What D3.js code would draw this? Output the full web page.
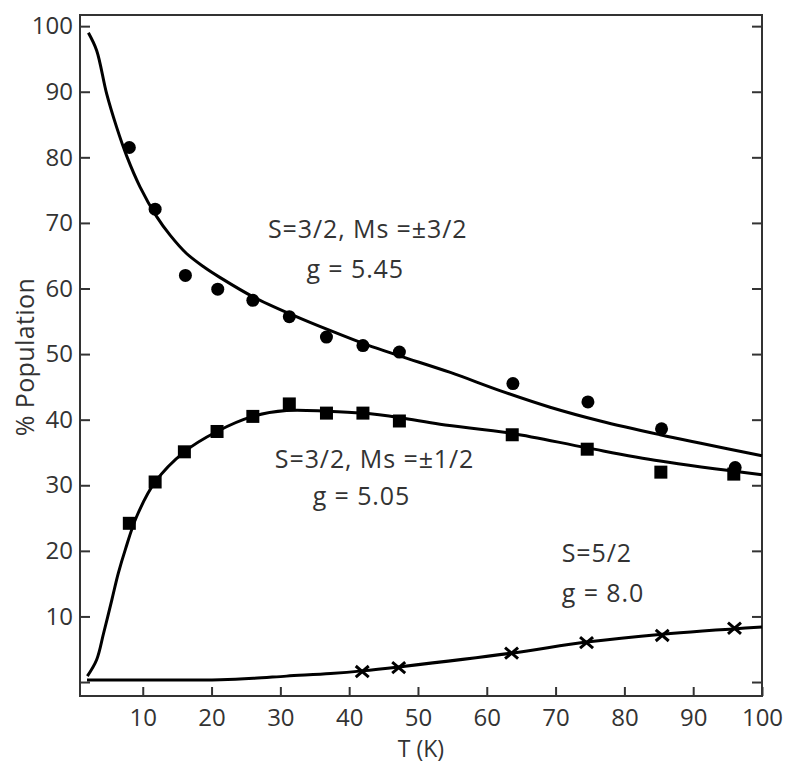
<!DOCTYPE html>
<html>
<head>
<meta charset="utf-8">
<script src="https://cdn.jsdelivr.net/npm/d3@7"></script>
<style>
  html, body { margin: 0; padding: 0; background: #fff; }
  svg text { font-family: "Open Sans", "Noto Sans", sans-serif; fill: #333; }
</style>
</head>
<body>
<svg id="chart" width="800" height="777"></svg>
<script>
// ---- data ----
const circT = [8.05, 11.8, 16.2, 20.9, 26.0, 31.3, 36.7, 42.0, 47.3, 63.8, 74.7, 85.4, 96.1];
const circV = [81.5, 72.1, 62.0, 59.9, 58.2, 55.7, 52.6, 51.3, 50.3, 45.5, 42.7, 38.6, 32.7];
const sqT = [8.05, 11.8, 16.05, 20.8, 26.0, 31.3, 36.7, 42.0, 47.3, 63.7, 74.6, 85.3, 95.9];
const sqV = [24.2, 30.5, 35.1, 38.2, 40.5, 42.4, 41.0, 41.0, 39.8, 37.7, 35.5, 32.0, 31.7];
const crossT = [41.9, 47.2, 63.6, 74.5, 85.5, 96.0];
const crossV = [1.6, 2.2, 4.4, 6.0, 7.1, 8.2];

// fitted curves
const fitAT = [2.1, 3.3, 4.75, 6.2, 7.7, 9.6, 12.0, 14.0, 16.4, 19.0, 21.2, 26.1, 31.9, 37.2, 42.6, 47.4, 54.7, 62.0, 69.2, 76.5, 85.2, 91.1, 100];
const fitAV = [99.0, 96.3, 89.7, 84.6, 80.1, 75.5, 71.0, 68.1, 65.3, 63.2, 61.7, 58.7, 55.9, 53.6, 51.4, 49.7, 47.2, 44.4, 41.9, 39.8, 37.7, 36.4, 34.5];
const fitBT = [1.95, 3.3, 4.3, 5.5, 6.45, 7.5, 9.1, 11.8, 16.05, 20.8, 26.0, 30.9, 36.8, 42.0, 47.4, 53.2, 63.7, 74.6, 85.2, 100];
const fitBV = [0.9, 3.4, 7.4, 12.5, 16.6, 20.3, 25.2, 30.5, 35.1, 38.2, 40.5, 41.4, 41.3, 41.0, 40.3, 39.3, 37.9, 35.7, 33.7, 31.6];
const fitCT = [1.9, 10, 21.3, 26.1, 30.9, 37.3, 41.9, 47.2, 63.6, 74.5, 85.5, 100];
const fitCV = [0.3, 0.3, 0.35, 0.56, 0.9, 1.3, 1.7, 2.3, 4.4, 6.1, 7.3, 8.4];

const xTicks = [10, 20, 30, 40, 50, 60, 70, 80, 90, 100];
const yTicks = [0, 10, 20, 30, 40, 50, 60, 70, 80, 90, 100];
const yTickLabels = ["", "10", "20", "30", "40", "50", "60", "70", "80", "90", "100"];

// annotation lines: text, left T, baseline value
const annoText = ["S=3/2, Ms =\u00b13/2", "g = 5.45", "S=3/2, Ms =\u00b11/2", "g = 5.05", "S=5/2", "g = 8.0"];
const annoT = [28.2, 33.8, 29.2, 34.7, 70.9, 70.9];
const annoV = [67.7, 61.6, 32.6, 27.0, 18.3, 12.2];
const xLabel = "T (K)";
const yLabel = "% Population";

// ---- layout ----
const L = 80, R = 762, T0 = 15, B = 696;
const svg = d3.select("#chart");
const x = d3.scaleLinear().domain([0.88, 100]).range([L, R]);
const y = d3.scaleLinear().domain([-2.13, 101.7]).range([B, T0]);

const axisColor = "#333";

// frame
svg.append("rect").attr("x", L).attr("y", T0).attr("width", R - L).attr("height", B - T0)
  .attr("fill", "none").attr("stroke", axisColor).attr("stroke-width", 2);

// bottom axis ticks (inward)
const xAxis = d3.axisBottom(x).tickValues(xTicks).tickSizeInner(-9).tickSizeOuter(0).tickPadding(13);
const gx = svg.append("g").attr("transform", `translate(0,${B})`).call(xAxis);
gx.select(".domain").remove();
gx.selectAll("line").attr("stroke", axisColor).attr("stroke-width", 2);
gx.selectAll("text").attr("font-size", 24).attr("fill", "#333")
  .attr("font-family", "'Open Sans', sans-serif");

// left axis
const yAxis = d3.axisLeft(y).tickValues(yTicks).tickFormat((d, i) => yTickLabels[i])
  .tickSizeInner(-10).tickSizeOuter(0).tickPadding(7);
const gy = svg.append("g").attr("transform", `translate(${L},0)`).call(yAxis);
gy.select(".domain").remove();
gy.selectAll("line").attr("stroke", axisColor).attr("stroke-width", 2);
gy.selectAll("text").attr("font-size", 24).attr("fill", "#333")
  .attr("font-family", "'Open Sans', sans-serif");

// right axis (ticks only)
const yAxisR = d3.axisRight(y).tickValues(yTicks).tickFormat("").tickSizeInner(-10).tickSizeOuter(0);
const gyr = svg.append("g").attr("transform", `translate(${R},0)`).call(yAxisR);
gyr.select(".domain").remove();
gyr.selectAll("line").attr("stroke", axisColor).attr("stroke-width", 2);

// axis titles
svg.append("text").attr("x", 421).attr("y", 757).attr("text-anchor", "middle")
  .attr("font-size", 23).text(xLabel);
svg.append("text").attr("transform", `translate(34,357) rotate(-90)`)
  .attr("text-anchor", "middle").attr("font-size", 25).attr("letter-spacing", 0.4).text(yLabel);

// curves
const line = d3.line().x(d => x(d[0])).y(d => y(d[1])).curve(d3.curveCatmullRom.alpha(0.5));
const fits = [d3.zip(fitAT, fitAV), d3.zip(fitBT, fitBV), d3.zip(fitCT, fitCV)];
svg.append("g").selectAll("path").data(fits).join("path")
  .attr("d", line).attr("fill", "none").attr("stroke", "#000").attr("stroke-width", 3)
  .attr("stroke-linejoin", "round");

// markers
svg.append("g").selectAll("circle").data(d3.zip(circT, circV)).join("circle")
  .attr("cx", d => x(d[0])).attr("cy", d => y(d[1])).attr("r", 6.5).attr("fill", "#000");
const s = 13;
svg.append("g").selectAll("rect").data(d3.zip(sqT, sqV)).join("rect")
  .attr("x", d => x(d[0]) - s / 2).attr("y", d => y(d[1]) - s / 2)
  .attr("width", s).attr("height", s).attr("fill", "#000");
const cr = 6.5;
svg.append("g").selectAll("path").data(d3.zip(crossT, crossV)).join("path")
  .attr("transform", d => `translate(${x(d[0])},${y(d[1])})`)
  .attr("d", `M${-cr},${-cr * 0.85}L${cr},${cr * 0.85}M${-cr},${cr * 0.85}L${cr},${-cr * 0.85}`)
  .attr("stroke", "#000").attr("stroke-width", 3).attr("fill", "none");

// annotations
svg.append("g").selectAll("text").data(d3.range(annoText.length)).join("text")
  .attr("x", i => x(annoT[i])).attr("y", i => y(annoV[i]))
  .attr("font-size", 25).attr("letter-spacing", 0.9)
  .text(i => annoText[i]);
</script>
</body>
</html>
